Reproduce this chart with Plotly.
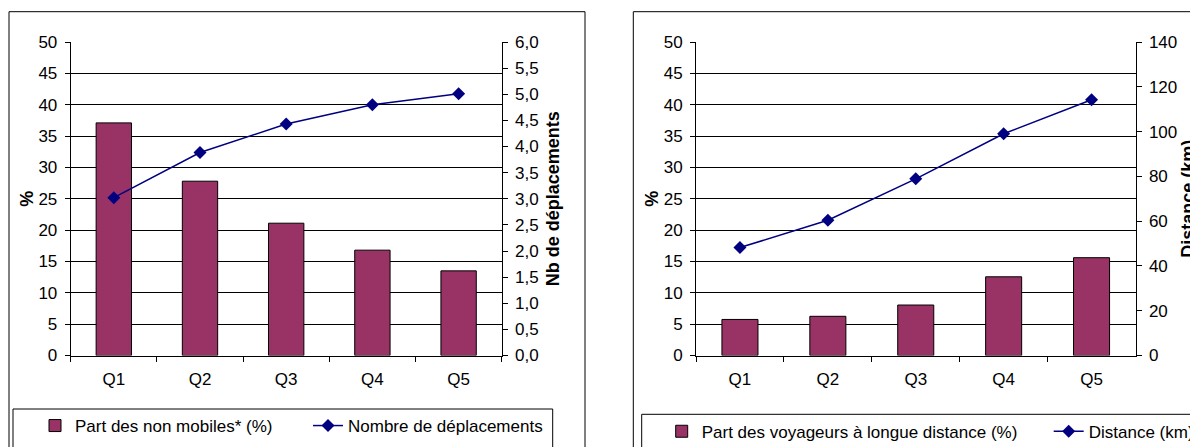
import plotly.graph_objects as go

# The page body has an 8px margin: the figure is drawn from page (8, 8).
OFF = 8
W, H = 1198 - OFF, 447 - OFF

categories = ["Q1", "Q2", "Q3", "Q4", "Q5"]

# Left chart
part_non_mobiles = [37.1, 27.8, 21.1, 16.8, 13.5]
nb_deplacements = [3.02, 3.885, 4.43, 4.80, 5.01]

# Right chart
part_longue_distance = [5.75, 6.25, 8.05, 12.55, 15.6]
distance_km = [48.2, 60.4, 78.9, 99.0, 114.2]

FONT = "Liberation Sans, Arial, sans-serif"
BAR_COLOR = "#993366"
LINE_COLOR = "#000080"


def px(x):
    return (x - OFF) / W


def py(y):
    return 1 - (y - OFF) / H


fig = go.Figure()

fig.add_trace(go.Bar(
    x=categories, y=part_non_mobiles, name="Part des non mobiles* (%)",
    marker=dict(color=BAR_COLOR, line=dict(color="black", width=1)),
    width=0.41, xaxis="x", yaxis="y", legend="legend",
))
fig.add_trace(go.Scatter(
    x=categories, y=nb_deplacements, name="Nombre de déplacements",
    mode="lines+markers", line=dict(color=LINE_COLOR, width=1.5),
    marker=dict(symbol="diamond", size=10, color=LINE_COLOR),
    xaxis="x", yaxis="y2", legend="legend",
))
fig.add_trace(go.Bar(
    x=categories, y=part_longue_distance,
    name="Part des voyageurs à longue distance (%)",
    marker=dict(color=BAR_COLOR, line=dict(color="black", width=1)),
    width=0.41, xaxis="x2", yaxis="y3", legend="legend2",
))
fig.add_trace(go.Scatter(
    x=categories, y=distance_km, name="Distance (km)",
    mode="lines+markers", line=dict(color=LINE_COLOR, width=1.5),
    marker=dict(symbol="diamond", size=10, color=LINE_COLOR),
    xaxis="x2", yaxis="y4", legend="legend2",
))

tickfont = dict(family=FONT, size=17, color="black")
titlefont = dict(family=FONT, size=18, color="black", weight="bold")

ydom = [py(355.5), py(42)]

xcommon = dict(
    type="category", showline=True, linecolor="black", linewidth=1,
    ticks="outside", tickson="boundaries", ticklen=5, tickcolor="black",
    showgrid=False, tickfont=tickfont, ticklabelstandoff=8,
)
ycommon = dict(
    showline=True, linecolor="black", linewidth=1, ticks="outside",
    ticklen=5, tickcolor="black", tickfont=tickfont, zeroline=False,
    ticklabelstandoff=4,
)

fig.update_layout(
    width=W, height=H, autosize=False,
    margin=dict(l=0, r=0, t=0, b=0, autoexpand=False),
    paper_bgcolor="white", plot_bgcolor="white",
    separators=", ",
    font=dict(family=FONT, size=17, color="black"),
    bargap=0.59,
    xaxis=dict(domain=[px(70.7), px(501.7)], anchor="y", **xcommon),
    yaxis=dict(domain=ydom, anchor="x", range=[0, 50], dtick=5,
               showgrid=True, gridcolor="black", gridwidth=1,
               title=dict(text="%", font=titlefont, standoff=0), **ycommon),
    yaxis2=dict(overlaying="y", side="right", anchor="x", range=[0, 6],
                dtick=0.5, tickformat=".1f", showgrid=False,
                title=dict(text="Nb de déplacements", font=titlefont, standoff=8),
                **ycommon),
    xaxis2=dict(domain=[px(696), px(1135.5)], anchor="y3", **xcommon),
    yaxis3=dict(domain=ydom, anchor="x2", range=[0, 50], dtick=5,
                showgrid=True, gridcolor="black", gridwidth=1,
                title=dict(text="%", font=titlefont, standoff=0), **ycommon),
    yaxis4=dict(overlaying="y3", side="right", anchor="x2", range=[0, 140],
                dtick=20, showgrid=False,
                title=dict(text="Distance (km)", font=titlefont, standoff=12),
                **ycommon),
    legend=dict(
        orientation="h", x=px(35), xanchor="left", y=py(426), yanchor="middle",
        bgcolor="rgba(0,0,0,0)", borderwidth=0,
        font=dict(family=FONT, size=17, color="black"),
        entrywidth=228, entrywidthmode="pixels", traceorder="normal",
    ),
    legend2=dict(
        orientation="h", x=px(661.7), xanchor="left", y=py(431.7), yanchor="middle",
        bgcolor="rgba(0,0,0,0)", borderwidth=0,
        font=dict(family=FONT, size=17, color="black"),
        entrywidth=342, entrywidthmode="pixels", traceorder="normal",
    ),
    shapes=[
        # outer chart frames
        dict(type="rect", xref="paper", yref="paper",
             x0=px(9), x1=px(585), y0=py(475), y1=py(11.7),
             line=dict(color="black", width=1), fillcolor="rgba(0,0,0,0)",
             layer="below"),
        dict(type="rect", xref="paper", yref="paper",
             x0=px(633.3), x1=px(1230), y0=py(475), y1=py(11.7),
             line=dict(color="black", width=1), fillcolor="rgba(0,0,0,0)",
             layer="below"),
        # legend frames
        dict(type="rect", xref="paper", yref="paper",
             x0=px(13), x1=px(552.7), y0=py(470), y1=py(409),
             line=dict(color="black", width=1), fillcolor="rgba(0,0,0,0)",
             layer="below"),
        dict(type="rect", xref="paper", yref="paper",
             x0=px(641.7), x1=px(1225), y0=py(470), y1=py(414.3),
             line=dict(color="black", width=1), fillcolor="rgba(0,0,0,0)",
             layer="below"),
    ],
)

fig.write_html("out.html")
